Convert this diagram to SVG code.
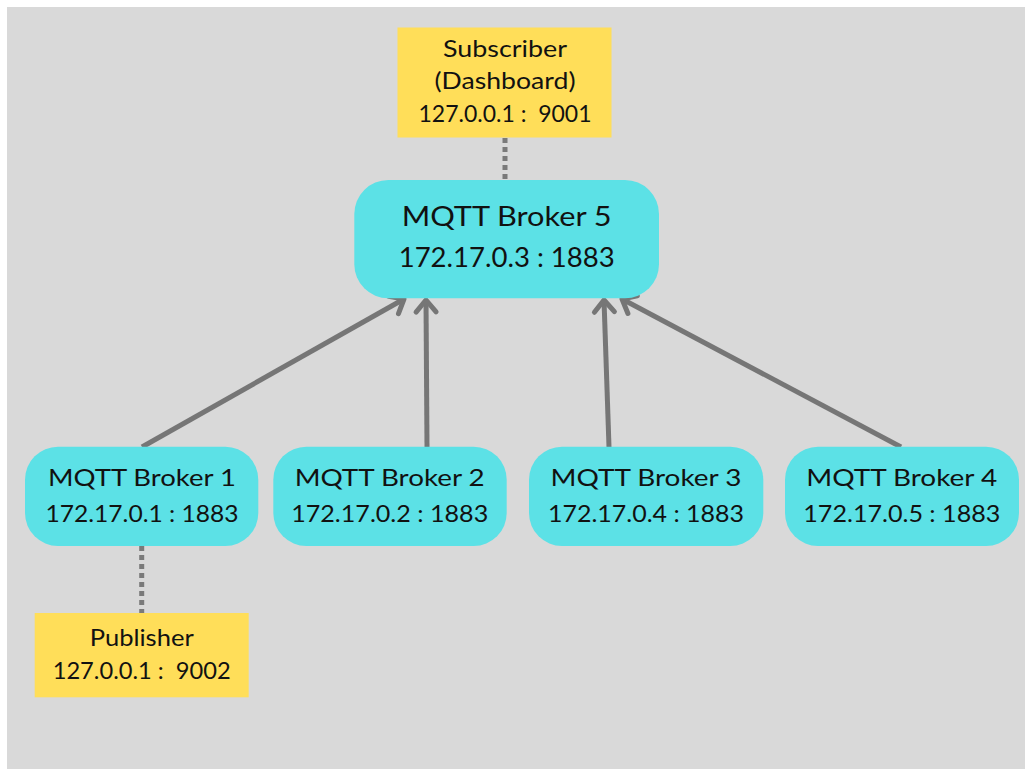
<svg xmlns="http://www.w3.org/2000/svg" width="1025" height="769" viewBox="0 0 1025 769">
  <style>
    .broker { fill: #5ce1e6; }
    .client { fill: #ffde59; }
    text { font-family: Lato, "DejaVu Sans", sans-serif; fill: #111111; text-anchor: middle; }
    .t-main { font-size: 26px; }
    .t-node { font-size: 24px; }
    .t-client { font-size: 22.5px; }
    .link { stroke: #767676; stroke-width: 5; fill: none; marker-end: url(#chevron); }
    .dots { stroke: #7a7a7a; stroke-width: 5; fill: none; stroke-dasharray: 5 4; }
  </style>
  <defs>
    <marker id="chevron" markerUnits="userSpaceOnUse" viewBox="-20 -15 25 30" refX="0" refY="0" markerWidth="25" markerHeight="30" orient="auto">
      <path d="M-12,-10 L0,0 L-12,10" fill="none" stroke="#767676" stroke-width="5" stroke-linecap="round" stroke-linejoin="round"/>
    </marker>
  </defs>

  <!-- canvas -->
  <rect x="0" y="0" width="1025" height="769" fill="#ffffff"/>
  <rect x="7" y="7" width="1018" height="762" fill="#d9d9d9"/>

  <!-- connectors -->
  <g id="connectors">
    <line class="dots" x1="505" y1="138" x2="505" y2="180"/>
    <line class="dots" x1="141.7" y1="546" x2="141.7" y2="613"/>
    <line class="link" x1="142" y1="447" x2="404" y2="299"/>
    <line class="link" x1="427" y1="447" x2="426" y2="300"/>
    <line class="link" x1="609" y1="447" x2="604" y2="300"/>
    <line class="link" x1="901" y1="447" x2="622" y2="299"/>
  </g>

  <!-- subscriber client -->
  <g id="subscriber">
    <rect class="client" x="397.5" y="27.5" width="214" height="110"/>
    <text class="t-client" x="505" y="57" textLength="124" lengthAdjust="spacingAndGlyphs">Subscriber</text>
    <text class="t-client" x="505" y="89" textLength="141" lengthAdjust="spacingAndGlyphs">(Dashboard)</text>
    <text class="t-client" x="505" y="121.5" textLength="173" lengthAdjust="spacingAndGlyphs">127.0.0.1 :&#160; 9001</text>
  </g>

  <!-- central broker -->
  <g id="broker5">
    <rect class="broker" x="354.3" y="180" width="304.7" height="118.3" rx="34" ry="34"/>
    <text class="t-main" x="506.7" y="226" textLength="210" lengthAdjust="spacingAndGlyphs">MQTT Broker 5</text>
    <text class="t-main" x="506.7" y="266.7" textLength="216" lengthAdjust="spacingAndGlyphs">172.17.0.3 : 1883</text>
  </g>

  <!-- edge brokers -->
  <g id="broker1">
    <rect class="broker" x="25" y="446.7" width="233.3" height="99.3" rx="33" ry="33"/>
    <text class="t-node" x="142" y="485.7" textLength="188" lengthAdjust="spacingAndGlyphs">MQTT Broker 1</text>
    <text class="t-node" x="142" y="522.3" textLength="193" lengthAdjust="spacingAndGlyphs">172.17.0.1 : 1883</text>
  </g>
  <g id="broker2">
    <rect class="broker" x="273.3" y="446.7" width="233.4" height="99.3" rx="33" ry="33"/>
    <text class="t-node" x="389.7" y="485.7" textLength="190" lengthAdjust="spacingAndGlyphs">MQTT Broker 2</text>
    <text class="t-node" x="389.7" y="522.3" textLength="197" lengthAdjust="spacingAndGlyphs">172.17.0.2 : 1883</text>
  </g>
  <g id="broker3">
    <rect class="broker" x="529" y="446.7" width="234.3" height="99.3" rx="33" ry="33"/>
    <text class="t-node" x="646" y="485.7" textLength="191" lengthAdjust="spacingAndGlyphs">MQTT Broker 3</text>
    <text class="t-node" x="646" y="522.3" textLength="196" lengthAdjust="spacingAndGlyphs">172.17.0.4 : 1883</text>
  </g>
  <g id="broker4">
    <rect class="broker" x="785" y="446.7" width="234" height="99.3" rx="33" ry="33"/>
    <text class="t-node" x="901.8" y="485.7" textLength="191" lengthAdjust="spacingAndGlyphs">MQTT Broker 4</text>
    <text class="t-node" x="901.8" y="522.3" textLength="197" lengthAdjust="spacingAndGlyphs">172.17.0.5 : 1883</text>
  </g>

  <!-- publisher client -->
  <g id="publisher">
    <rect class="client" x="34.7" y="613" width="214" height="84.3"/>
    <text class="t-client" x="141.7" y="646" textLength="104" lengthAdjust="spacingAndGlyphs">Publisher</text>
    <text class="t-client" x="141.7" y="678.7" textLength="178" lengthAdjust="spacingAndGlyphs">127.0.0.1 :&#160; 9002</text>
  </g>
</svg>
